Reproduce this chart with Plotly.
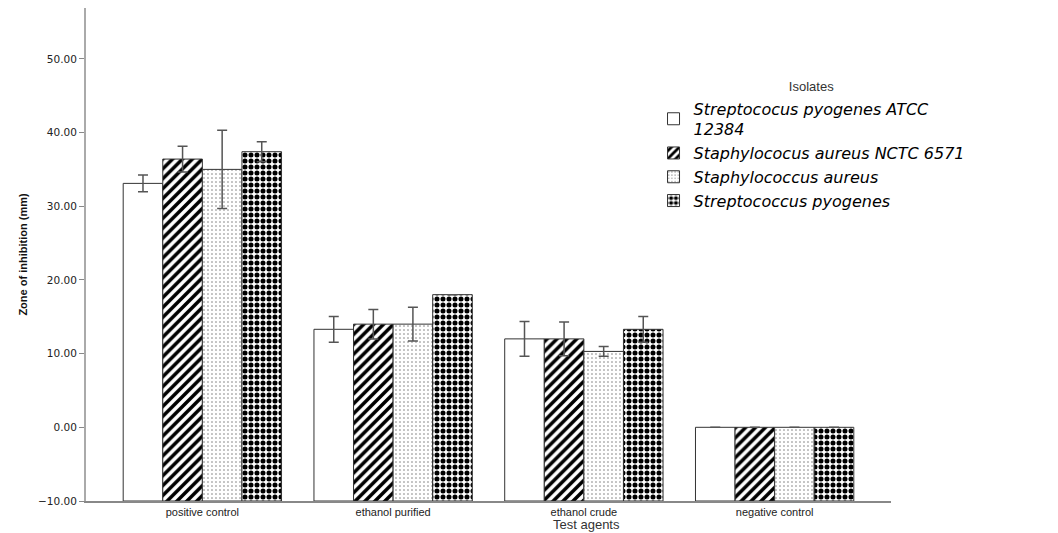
import plotly.graph_objects as go

categories = ["positive control", "ethanol purified", "ethanol crude", "negative control"]
series_names = [
    "Streptococus pyogenes ATCC<br>12384",
    "Staphylococus aureus NCTC 6571",
    "Staphylococcus aureus",
    "Streptococcus pyogenes",
]
values_s1 = [33.1, 13.3, 12.0, 0.0]
values_s2 = [36.4, 14.0, 12.0, 0.0]
values_s3 = [35.0, 14.0, 10.3, 0.0]
values_s4 = [37.4, 18.0, 13.3, 0.0]
errors_s1 = [1.15, 1.75, 2.35, 0.0]
errors_s2 = [1.75, 2.0, 2.3, 0.0]
errors_s3 = [5.3, 2.3, 0.65, 0.0]
errors_s4 = [1.35, 0.0, 1.75, 0.0]
y_ticks = [-10, 0, 10, 20, 30, 40, 50]
BASE = -10

series_values = [values_s1, values_s2, values_s3, values_s4]
series_errors = [errors_s1, errors_s2, errors_s3, errors_s4]
patterns = [
    dict(shape="", bgcolor="white"),
    dict(shape="/", fgcolor="black", bgcolor="white", size=7, solidity=0.5, fgopacity=1),
    dict(shape=".", fgcolor="#777777", bgcolor="white", size=4, solidity=0.12, fgopacity=1),
    dict(shape=".", fgcolor="black", bgcolor="white", size=6, solidity=0.55, fgopacity=1),
]

fig = go.Figure()
for name, vals, errs, pat in zip(series_names, series_values, series_errors, patterns):
    fig.add_trace(go.Bar(
        x=categories,
        y=[v - BASE for v in vals],
        base=BASE,
        name=name,
        marker=dict(color="white", pattern=pat, line=dict(color="#333333", width=1)),
        error_y=dict(type="data", array=errs, visible=True, color="#555555",
                     thickness=1.5, width=5),
        hoverinfo="skip",
    ))

fig.update_layout(
    width=1058, height=533,
    margin=dict(l=86, r=167, t=8, b=32),
    paper_bgcolor="white", plot_bgcolor="white",
    barmode="group", bargap=0.17, bargroupgap=0,
    font=dict(family="Liberation Sans, Arial, sans-serif", color="#222"),
    showlegend=True,
    legend=dict(
        x=0.705, y=0.865, xanchor="left", yanchor="top",
        bgcolor="rgba(0,0,0,0)",
        font=dict(family="DejaVu Sans, sans-serif", size=16, color="black", style="italic"),
        title=dict(text="Isolates", side="top center",
                   font=dict(family="Liberation Sans, Arial, sans-serif", size=13,
                             color="#333", style="normal")),
        tracegroupgap=0,
    ),
    xaxis=dict(
        range=[-0.61, 3.61], automargin=False,
        showline=True, linecolor="#888888", linewidth=2,
        ticks="", showgrid=False, zeroline=False,
        tickfont=dict(family="Liberation Sans, Arial, sans-serif", size=11, color="#222"),
    ),
    yaxis=dict(
        range=[-10, 56.9], automargin=False,
        tickvals=y_ticks, tickformat=".2f",
        showline=True, linecolor="#aaaaaa", linewidth=2,
        ticks="outside", ticklen=5, tickcolor="#888888", tickwidth=1,
        showgrid=False, zeroline=False,
        tickfont=dict(family="DejaVu Sans, sans-serif", size=10.5, color="#222"),
        title=dict(text="<b>Zone of inhibition (mm)</b>", standoff=8,
                   font=dict(family="Liberation Sans, Arial, sans-serif", size=11, color="#111")),
    ),
    annotations=[dict(
        text="Test agents", xref="paper", yref="paper", x=0.622, y=0, yshift=-14,
        xanchor="center", yanchor="top", showarrow=False,
        font=dict(family="Liberation Sans, Arial, sans-serif", size=13, color="#333"),
    )],
)

fig.write_html("out.html", config={"displayModeBar": False},
               post_script="document.body.style.margin='0px';")
